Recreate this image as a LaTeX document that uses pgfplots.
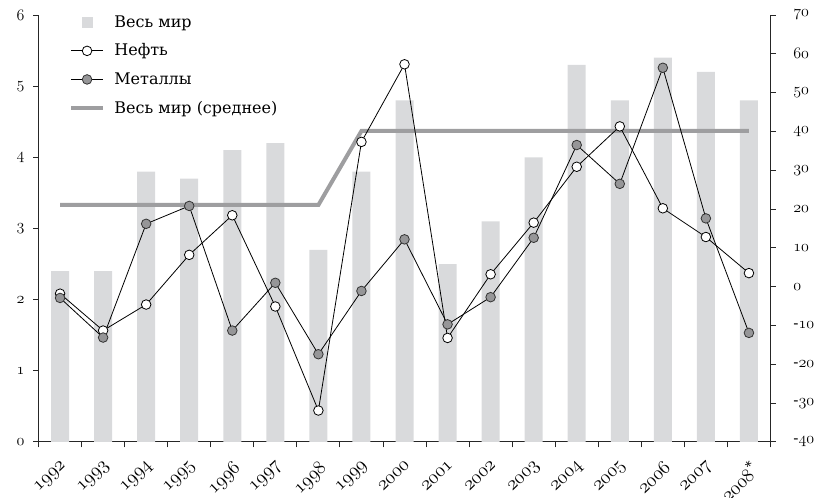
\documentclass[border=0pt]{standalone}
\usepackage{fontspec}
\setmainfont{DejaVu Serif}
\usepackage{pgfplots}
\pgfplotsset{compat=1.18}
\definecolor{barcol}{RGB}{217,218,220}
\definecolor{avgcol}{RGB}{158,158,160}
\definecolor{metcol}{RGB}{150,150,152}
% old-style figures from Latin Modern math italic
\newcommand\os[1]{{\fontencoding{OML}\fontfamily{lmm}\fontseries{b}\fontshape{it}\selectfont #1}}

\begin{document}
\begin{tikzpicture}
% bars and the average line, left scale
\begin{axis}[
  name=main,
  scale only axis, width=549pt, height=320.25pt,
  xmin=-0.5, xmax=16.5, ymin=0, ymax=6,
  axis x line*=bottom, axis y line*=left,
  axis line style={-, black!85, line width=0.7pt},
  tick align=outside, major tick length=4pt, minor tick length=4pt,
  tick style={black!85, line width=0.7pt},
  xtick={0,...,16},
  xticklabels={\os{1992},\os{1993},\os{1994},\os{1995},\os{1996},\os{1997},\os{1998},\os{1999},\os{2000},\os{2001},\os{2002},\os{2003},\os{2004},\os{2005},\os{2006},\os{2007},\os{2008}\textsuperscript{*}},
  major x tick style={draw=none},
  minor xtick={-0.5,0.5,...,16.5},
  ytick={0,...,6},
  yticklabels={\os{0},\os{1},\os{2},\os{3},\os{4},\os{5},\os{6}},
  yticklabel style={font=\fontsize{12.5}{15}\selectfont, xshift=-3pt},
  xticklabel style={font=\fontsize{14}{16}\selectfont, anchor=north east, inner sep=0pt, xshift=0pt, yshift=-9pt, rotate=44},
]
\addplot[ybar, bar width=13.5pt, fill=barcol, draw=none] coordinates {
  (0,2.4) (1,2.4) (2,3.8) (3,3.7) (4,4.1) (5,4.2) (6,2.7) (7,3.8) (8,4.8)
  (9,2.5) (10,3.1) (11,4.0) (12,5.3) (13,4.8) (14,5.4) (15,5.2) (16,4.8)
};
\addplot[avgcol, line width=3pt] coordinates {
  (0,3.33) (6,3.33) (7,4.37) (16,4.37)
};
\end{axis}
% oil and metals, right scale
\begin{axis}[
  scale only axis, width=549pt, height=320.25pt,
  xmin=-0.5, xmax=16.5, ymin=-40, ymax=70,
  axis x line=none, axis y line*=right,
  axis line style={-, black!85, line width=0.7pt},
  tick align=outside, major tick length=4pt,
  tick style={black!85, line width=0.7pt},
  ytick={-40,-30,...,70},
  yticklabels={-\os{40},-\os{30},-\os{20},-\os{10},\os{0},\os{10},\os{20},\os{30},\os{40},\os{50},\os{60},\os{70}},
  yticklabel style={font=\fontsize{11.5}{14}\selectfont, anchor=west, inner sep=0pt, xshift=13pt},
  legend style={at={(0.036,1.012)}, anchor=north west, draw=none, fill=none,
    font=\fontsize{12}{14}\selectfont, row sep=7pt, column sep=5pt},
  legend cell align=left,
  legend image code/.code={\draw[mark repeat=2,mark phase=2] plot coordinates {(0cm,0cm) (0.42cm,0cm) (0.84cm,0cm)};},
]
\addlegendimage{legend image code/.code={\fill[barcol] (0.3cm,-3.8pt) rectangle ++(7.6pt,7.6pt);}}
\addplot[black, line width=0.6pt, mark=*, mark size=3.6pt, mark options={fill=white, draw=black, line width=0.6pt}] coordinates {
  (0,-1.8) (1,-11.3) (2,-4.6) (3,8.2) (4,18.4) (5,-5.1) (6,-31.9) (7,37.3) (8,57.3)
  (9,-13.2) (10,3.2) (11,16.5) (12,30.9) (13,41.3) (14,20.2) (15,12.8) (16,3.5)
};
\addplot[black, line width=0.6pt, mark=*, mark size=3.6pt, mark options={fill=metcol, draw=black!80, line width=0.6pt}] coordinates {
  (0,-2.9) (1,-13.1) (2,16.2) (3,20.8) (4,-11.3) (5,1.0) (6,-17.4) (7,-1.1) (8,12.2)
  (9,-9.7) (10,-2.7) (11,12.6) (12,36.5) (13,26.5) (14,56.4) (15,17.6) (16,-11.9)
};
\addlegendimage{legend image code/.code={\draw[avgcol, line width=3pt] (0cm,0cm) -- (0.84cm,0cm);}}
\legend{Весь мир, Нефть, Металлы, Весь мир (среднее)}
\end{axis}
% page frame with the reference's margins round the axis box
\pgfresetboundingbox
\path ([xshift=-28.9pt, yshift=-42pt]main.south west) rectangle ([xshift=34.9pt, yshift=11.25pt]main.north east);
\end{tikzpicture}
\end{document}
